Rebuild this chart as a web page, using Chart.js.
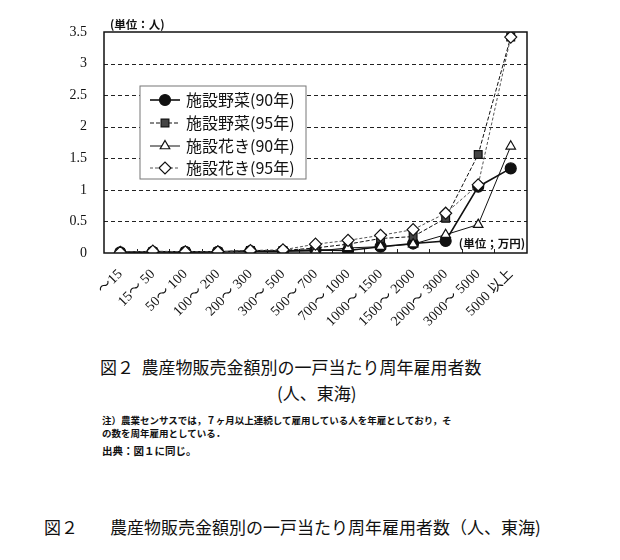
<!DOCTYPE html>
<html lang="ja">
<head>
<meta charset="UTF-8">
<title>図2</title>
<script src="https://cdn.jsdelivr.net/npm/chart.js@4.4.1/dist/chart.umd.min.js"></script>
<style>
  body { margin: 0; background: #fff; }
  #wrap { position: relative; width: 620px; height: 560px; }
  #chart { position: absolute; left: 0; top: 0; }
  .t { position: absolute; color: #111; font-family: "Noto Sans CJK JP", sans-serif; white-space: nowrap; }
</style>
</head>
<body>
<div id="wrap">
  <canvas id="chart" width="620" height="345"></canvas>
  <div class="t" style="left:100px;top:354px;font-size:17px;">図２&nbsp;&nbsp;農産物販売金額別の一戸当たり周年雇用者数</div>
  <div class="t" style="left:277px;top:380px;font-size:17px;">(人、東海)</div>
  <div class="t" style="left:102px;top:413px;font-size:9.5px;font-weight:bold;">注）農業センサスでは，７ヶ月以上連続して雇用している人を年雇としており，そ</div>
  <div class="t" style="left:102px;top:426px;font-size:9.5px;font-weight:bold;">の数を周年雇用としている．</div>
  <div class="t" style="left:102px;top:443px;font-size:10.5px;font-weight:bold;">出典：図１に同じ。</div>
  <div class="t" style="left:44px;top:514px;font-size:17px;">図２</div>
  <div class="t" style="left:110px;top:514px;font-size:17px;">農産物販売金額別の一戸当たり周年雇用者数（人、東海)</div>
</div>
<script>
const categories = ['～15', '15～ 50', '50～ 100', '100～ 200', '200～ 300', '300～ 500', '500～ 700',
  '700～ 1000', '1000～ 1500', '1500～ 2000', '2000～ 3000', '3000～ 5000', '5000 以上'];
const seriesNames = ['施設野菜(90年)', '施設野菜(95年)', '施設花き(90年)', '施設花き(95年)'];
const veg90 = [0.01, 0.02, 0.02, 0.02, 0.03, 0.03, 0.05, 0.04, 0.10, 0.15, 0.19, 1.05, 1.34];
const veg95 = [0.01, 0.02, 0.02, 0.02, 0.04, 0.04, 0.08, 0.14, 0.23, 0.26, 0.55, 1.56, 3.42];
const flo90 = [0.01, 0.02, 0.01, 0.02, 0.03, 0.03, 0.03, 0.08, 0.10, 0.14, 0.29, 0.45, 1.69];
const flo95 = [0.01, 0.03, 0.02, 0.02, 0.04, 0.05, 0.14, 0.20, 0.28, 0.37, 0.63, 1.08, 3.42];
const yTicks = [0, 0.5, 1, 1.5, 2, 2.5, 3, 3.5];

const legendRows = [100, 123, 146, 168];

// dashed horizontal grid at the y ticks, small inward ticks on the x axis
const dashedGrid = {
  id: 'dashedGrid',
  beforeDatasetsDraw(chart) {
    const { ctx, chartArea: a, scales } = chart;
    ctx.save();
    ctx.strokeStyle = '#222';
    ctx.lineWidth = 1;
    ctx.setLineDash([4, 3]);
    yTicks.forEach(v => {
      if (v === 0 || v === 3.5) return;
      const y = Math.round(scales.y.getPixelForValue(v)) + 0.5;
      ctx.beginPath();
      ctx.moveTo(a.left, y);
      ctx.lineTo(a.right, y);
      ctx.stroke();
    });
    ctx.setLineDash([]);
    const step = (a.right - a.left) / categories.length;
    for (let i = 1; i < categories.length; i++) {
      const x = Math.round(scales.x.getPixelForValue(i) - step / 2) + 0.5;
      ctx.beginPath();
      ctx.moveTo(x, a.bottom);
      ctx.lineTo(x, a.bottom - 4);
      ctx.stroke();
    }
    ctx.restore();
  }
};

// box around the plot, the two unit notes and the legend inside the plot
const frame = {
  id: 'frame',
  afterDraw(chart) {
    const { ctx, chartArea: a } = chart;
    ctx.save();
    ctx.strokeStyle = '#111';
    ctx.lineWidth = 1.5;
    ctx.setLineDash([]);
    ctx.strokeRect(a.left, a.top, a.right - a.left, a.bottom - a.top);

    ctx.fillStyle = '#111';
    ctx.font = 'bold 11.5px "Noto Sans CJK JP"';
    ctx.textAlign = 'left';
    ctx.fillText('(単位：人)', a.left + 6, a.top - 3);
    ctx.textAlign = 'right';
    ctx.fillText('(単位；万円)', a.right - 2, a.bottom - 5);

    const lx = 140, ly = 86, lw = 166, lh = 93;
    ctx.fillStyle = '#fff';
    ctx.fillRect(lx, ly, lw, lh);
    ctx.strokeStyle = '#777';
    ctx.lineWidth = 1;
    ctx.strokeRect(lx, ly, lw, lh);

    chart.data.datasets.forEach((ds, i) => {
      const y = legendRows[i];
      ctx.setLineDash(ds.borderDash);
      ctx.strokeStyle = ds.borderColor;
      ctx.lineWidth = ds.borderWidth;
      ctx.beginPath();
      ctx.moveTo(lx + 10, y);
      ctx.lineTo(lx + 40, y);
      ctx.stroke();
      ctx.setLineDash([]);
      ctx.fillStyle = ds.pointBackgroundColor;
      ctx.strokeStyle = '#111';
      ctx.lineWidth = 1.2;
      Chart.helpers.drawPoint(ctx, { pointStyle: ds.pointStyle, radius: ds.pointRadius, rotation: 0, borderWidth: 1.2 }, lx + 25, y);
      ctx.fillStyle = '#111';
      ctx.font = '16px "Noto Sans CJK JP"';
      ctx.textAlign = 'left';
      ctx.textBaseline = 'middle';
      ctx.fillText(ds.label, lx + 46, y);
      ctx.textBaseline = 'alphabetic';
    });
    ctx.restore();
  }
};

function makeSet(label, data, style, fill, dash, width, order, color) {
  return {
    label, data, order,
    borderColor: color || '#111',
    borderWidth: width,
    borderDash: dash,
    pointStyle: style,
    pointRadius: style === 'rectRot' ? 6 : 5.5,
    pointBackgroundColor: fill,
    pointBorderColor: '#111',
    pointBorderWidth: 1.2,
    tension: 0,
    fill: false
  };
}

const datasets = [
  makeSet(seriesNames[0], veg90, 'circle', '#111', [], 1.6, 3),
  makeSet(seriesNames[1], veg95, 'rect', '#444', [4, 2], 1, 2),
  makeSet(seriesNames[2], flo90, 'triangle', '#fff', [], 1, 1),
  makeSet(seriesNames[3], flo95, 'rectRot', '#fff', [3, 2], 1, 0, '#555')
];

new Chart(document.getElementById('chart'), {
  type: 'line',
  data: { labels: categories, datasets },
  options: {
    responsive: false,
    animation: false,
    layout: { padding: { top: 32, right: 93, left: 0, bottom: 0 } },
    plugins: { legend: { display: false }, tooltip: { enabled: false } },
    scales: {
      x: {
        offset: true,
        grid: { display: false },
        border: { display: false },
        ticks: {
          color: '#111', minRotation: 45, maxRotation: 45, padding: 5,
          font: { family: '"Liberation Serif", "Noto Sans CJK JP"', size: 14 }
        },
        afterFit(s) { s.height = 345 - 32 - 220 - 1; }
      },
      y: {
        min: 0, max: 3.5,
        afterBuildTicks(s) { s.ticks = yTicks.map(v => ({ value: v })); },
        grid: { display: false },
        border: { display: false },
        ticks: {
          color: '#111', padding: 9,
          font: { family: '"Liberation Serif"', size: 14 },
          callback: v => String(v)
        },
        afterFit(s) { s.width = 104; }
      }
    }
  },
  plugins: [dashedGrid, frame]
});
</script>
</body>
</html>
